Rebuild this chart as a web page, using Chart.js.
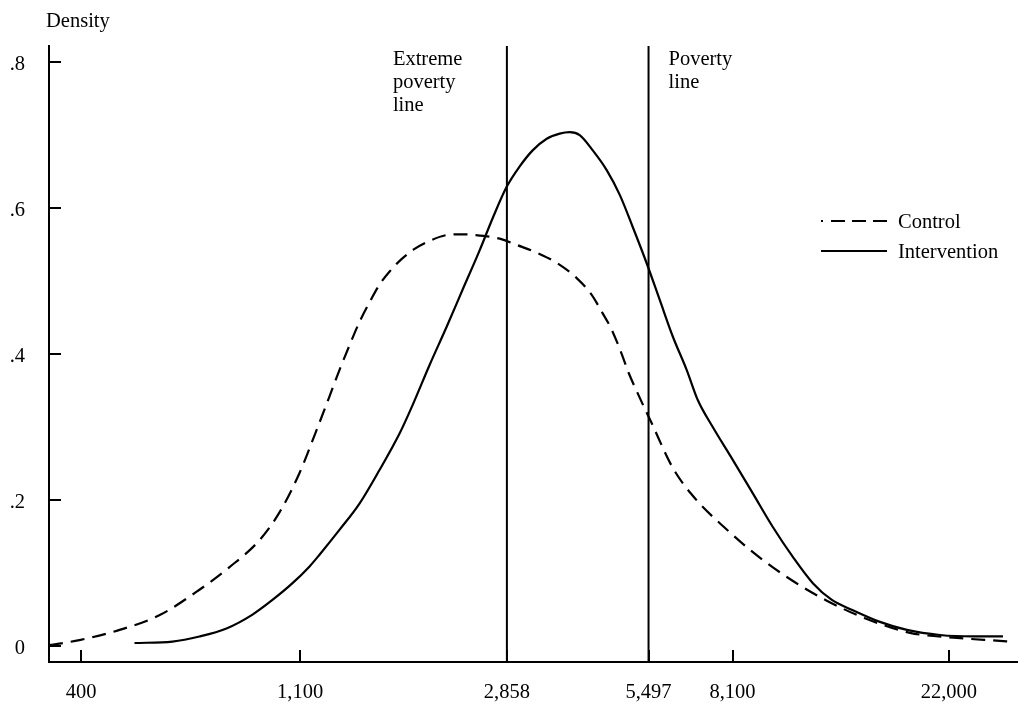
<!DOCTYPE html>
<html>
<head>
<meta charset="utf-8">
<script src="https://cdn.jsdelivr.net/npm/chart.js@4.4.1/dist/chart.umd.min.js"></script>
<style>
  html, body { margin: 0; padding: 0; background: #fff; }
  canvas { display: block; }
</style>
</head>
<body>
<canvas id="chart" width="1018" height="705"></canvas>
<script>
// income per capita (log axis) and estimated density
const controlIncome = [345, 397, 478, 574, 691, 794, 912, 1000, 1097, 1181, 1260, 1319, 1382, 1447, 1516, 1587, 1663, 1757, 1866, 2000, 2163, 2297, 2474, 2764, 3004, 3325, 3597, 3945, 4228, 4428, 4616, 4813, 5016, 5229, 5579, 6148, 6836, 7816, 9107, 10652, 12521, 14929, 18379, 22836, 27850, 29170];
const controlDensity = [0.001, 0.008, 0.022, 0.042, 0.077, 0.108, 0.145, 0.183, 0.237, 0.292, 0.342, 0.378, 0.412, 0.444, 0.471, 0.495, 0.513, 0.530, 0.544, 0.555, 0.563, 0.564, 0.563, 0.558, 0.549, 0.537, 0.525, 0.504, 0.481, 0.458, 0.436, 0.407, 0.374, 0.346, 0.305, 0.244, 0.201, 0.162, 0.123, 0.090, 0.062, 0.038, 0.018, 0.011, 0.007, 0.006];

const interventionIncome = [512, 610, 691, 783, 883, 968, 1062, 1149, 1203, 1319, 1447, 1587, 1741, 1849, 2000, 2163, 2329, 2520, 2676, 2855, 3032, 3219, 3435, 3647, 3819, 4000, 4249, 4531, 4813, 5110, 5452, 5789, 6148, 6557, 6900, 7394, 8110, 8897, 9758, 10702, 11739, 12816, 14120, 15999, 18128, 21109, 24590, 28240];
const interventionDensity = [0.004, 0.006, 0.013, 0.024, 0.043, 0.063, 0.086, 0.109, 0.125, 0.159, 0.195, 0.241, 0.291, 0.330, 0.385, 0.437, 0.488, 0.542, 0.586, 0.629, 0.657, 0.679, 0.695, 0.702, 0.704, 0.700, 0.679, 0.652, 0.618, 0.574, 0.524, 0.474, 0.424, 0.378, 0.337, 0.300, 0.255, 0.209, 0.163, 0.122, 0.086, 0.063, 0.049, 0.033, 0.022, 0.015, 0.013, 0.013];

const povertyLines = [2858, 5497];
const povertyLabels = [['Extreme', 'poverty', 'line'], ['Poverty', 'line']];

const xTicks = [400, 1100, 2858, 5497, 8100, 22000];
const yTicks = [0, 0.2, 0.4, 0.6, 0.8];

const X_MIN = 345, X_MAX = 30270;
const Y_MIN = -0.022, Y_MAX = 0.822;

const FONT = '"Liberation Serif", "Times New Roman", serif';
const FONT_SIZE = 20.5;

function toPoints(xs, ys) {
    return xs.map((x, i) => ({ x: x, y: ys[i] }));
}

const datasets = [
    {
        label: 'Control',
        data: toPoints(controlIncome, controlDensity),
        borderColor: '#000',
        borderWidth: 2.2,
        borderDash: [14, 8],
        pointRadius: 0,
        cubicInterpolationMode: 'monotone'
    },
    {
        label: 'Intervention',
        data: toPoints(interventionIncome, interventionDensity),
        borderColor: '#000',
        borderWidth: 2.2,
        pointRadius: 0,
        cubicInterpolationMode: 'monotone'
    }
];

povertyLines.forEach(v => {
    datasets.push({
        label: 'line' + v,
        data: [{ x: v, y: Y_MIN }, { x: v, y: Y_MAX }],
        borderColor: '#000',
        borderWidth: 2,
        pointRadius: 0
    });
});

// ticks point inward, plus the text labels and legend
const decor = {
    id: 'decor',
    afterDraw(chart) {
        const ctx = chart.ctx;
        const area = chart.chartArea;
        const xs = chart.scales.x, ys = chart.scales.y;
        ctx.save();
        ctx.strokeStyle = '#000';
        ctx.lineWidth = 2;
        xTicks.forEach(v => {
            const px = Math.round(xs.getPixelForValue(v));
            ctx.beginPath();
            ctx.moveTo(px, area.bottom);
            ctx.lineTo(px, area.bottom - 12);
            ctx.stroke();
        });
        yTicks.forEach(v => {
            const py = Math.round(ys.getPixelForValue(v));
            ctx.beginPath();
            ctx.moveTo(area.left, py);
            ctx.lineTo(area.left + 12, py);
            ctx.stroke();
        });

        ctx.fillStyle = '#000';
        ctx.font = FONT_SIZE + 'px ' + FONT;
        ctx.textBaseline = 'alphabetic';
        ctx.textAlign = 'left';
        ctx.fillText('Density', 46, 27);

        // poverty line labels
        povertyLabels.forEach((lines, i) => {
            const px = xs.getPixelForValue(povertyLines[i]);
            const lx = i === 0 ? px - 114 : px + 20;
            lines.forEach((t, j) => ctx.fillText(t, lx, 65 + j * 23));
        });

        // legend
        const rows = [221, 251];
        ctx.lineWidth = 2.2;
        ctx.setLineDash([2, 8, 14, 7, 14, 7, 14, 100]);
        ctx.beginPath();
        ctx.moveTo(821, rows[0]);
        ctx.lineTo(887, rows[0]);
        ctx.stroke();
        ctx.setLineDash([]);
        ctx.beginPath();
        ctx.moveTo(821, rows[1]);
        ctx.lineTo(887, rows[1]);
        ctx.stroke();
        ctx.fillText(datasets[0].label, 898, rows[0] + 6.5);
        ctx.fillText(datasets[1].label, 898, rows[1] + 7);
        ctx.restore();
    }
};

const chart = new Chart(document.getElementById('chart').getContext('2d'), {
    type: 'line',
    data: { datasets: datasets },
    options: {
        responsive: false,
        animation: false,
        layout: { padding: { top: 46, left: 0, right: 0, bottom: 0 } },
        plugins: {
            legend: { display: false },
            tooltip: { enabled: false }
        },
        scales: {
            x: {
                type: 'logarithmic',
                min: X_MIN,
                max: X_MAX,
                grid: { display: false, drawTicks: false },
                border: { display: true, color: '#000', width: 2 },
                ticks: {
                    color: '#000',
                    font: { family: FONT, size: FONT_SIZE },
                    padding: 18,
                    maxRotation: 0,
                    autoSkip: false,
                    callback: v => Number(v).toLocaleString('en-US')
                },
                afterBuildTicks: s => { s.ticks = xTicks.map(v => ({ value: v })); },
                afterFit: s => { s.height = 43; }
            },
            y: {
                min: Y_MIN,
                max: Y_MAX,
                grid: { display: false, drawTicks: false },
                border: { display: true, color: '#000', width: 2 },
                ticks: {
                    color: '#000',
                    font: { family: FONT, size: FONT_SIZE },
                    padding: 24,
                    labelOffset: 3,
                    callback: v => v === 0 ? '0' : v.toFixed(1).replace(/^0/, '')
                },
                afterBuildTicks: s => { s.ticks = yTicks.map(v => ({ value: v })); },
                afterFit: s => { s.width = 49; }
            }
        }
    },
    plugins: [decor]
});
</script>
</body>
</html>
